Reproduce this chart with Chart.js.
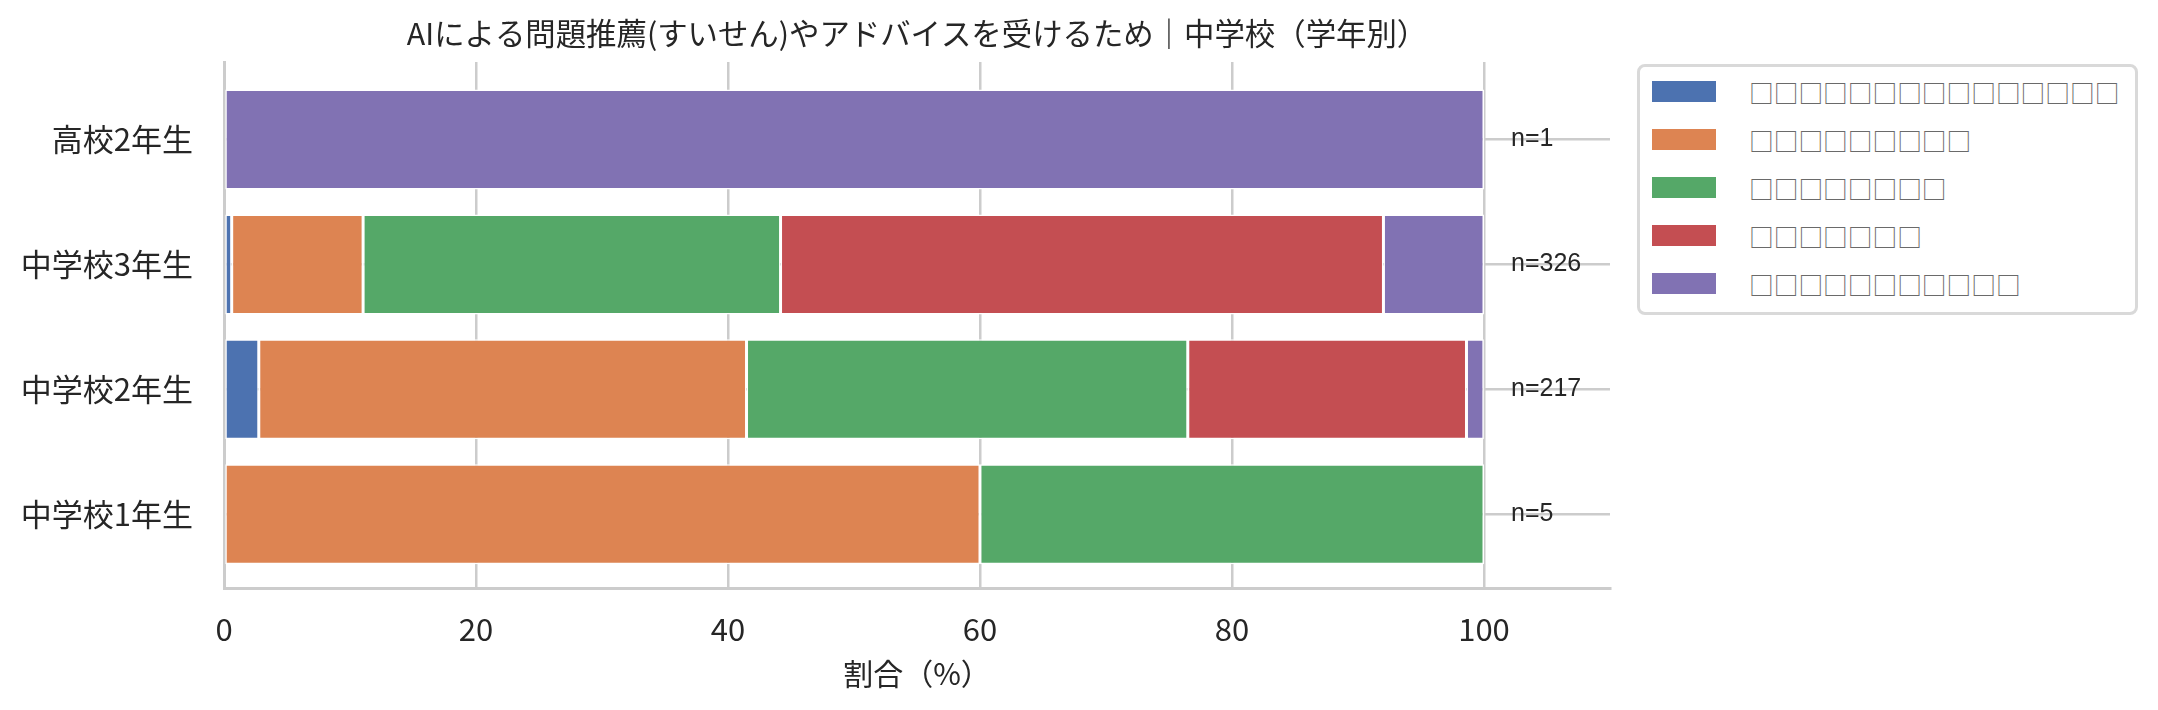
<!DOCTYPE html>
<html>
<head>
<meta charset="utf-8">
<script src="https://cdn.jsdelivr.net/npm/chart.js@4/dist/chart.umd.min.js"></script>
<style>
    body { margin: 0; background: #fff; }
    #wrap { position: relative; width: 2158px; height: 710px; }
    #legend {
        position: absolute; left: 1637px; top: 64px; width: 501px; height: 251px;
        box-sizing: border-box; border: 3px solid #d9d9d9; border-radius: 8px; background: #fff;
    }
    .legend-item { position: absolute; left: 12px; height: 48px; display: flex; align-items: center; }
    .legend-swatch { width: 64px; height: 21px; }
    .legend-label { margin-left: 33px; font: 24.7px "Noto Sans CJK JP", sans-serif; color: #6a6a6a; white-space: nowrap; }
</style>
</head>
<body>
<div id="wrap">
    <canvas id="chart" width="2158" height="710"></canvas>
    <div id="legend"></div>
</div>
<script>
const titleText = 'AIによる問題推薦(すいせん)やアドバイスを受けるため｜中学校（学年別）';
const xTitle = '割合（%）';

// bottom to top, like the picture
const categories = ['中学校1年生', '中学校2年生', '中学校3年生', '高校2年生'];
const sampleSizes = [5, 217, 326, 1];

// legend labels are missing glyphs in the picture
const seriesNames = [
    '□□□□□□□□□□□□□□□',
    '□□□□□□□□□',
    '□□□□□□□□',
    '□□□□□□□',
    '□□□□□□□□□□□'
];
const seriesColors = ['#4c72b0', '#dd8452', '#55a868', '#c44e52', '#8172b3'];

const blueValues   = [0, 2.76, 0.61, 0];
const orangeValues = [60, 38.71, 10.43, 0];
const greenValues  = [40, 35.02, 33.13, 0];
const redValues    = [0, 22.12, 47.85, 0];
const purpleValues = [0, 1.38, 7.98, 100];

const xTicks = [0, 20, 40, 60, 80, 100];

const allValues = [blueValues, orangeValues, greenValues, redValues, purpleValues];

const datasets = allValues.map((vals, k) => ({
    label: seriesNames[k],
    data: vals.map((v, i) => ({x: v, y: i})),
    backgroundColor: seriesColors[k],
    borderColor: '#ffffff',
    borderWidth: 1.5,
    borderSkipped: false,
    categoryPercentage: 0.8,
    barPercentage: 1.0
}));

const titlePlugin = {
    id: 'topTitle',
    afterDraw(chart) {
        const {ctx, chartArea} = chart;
        ctx.save();
        ctx.font = '30.4px "Noto Sans CJK JP"';
        ctx.fillStyle = '#262626';
        ctx.textAlign = 'center';
        ctx.textBaseline = 'middle';
        ctx.fillText(titleText, (chartArea.left + chartArea.right) / 2, 33);
        ctx.restore();
    }
};

const nLabelPlugin = {
    id: 'nLabels',
    afterDatasetsDraw(chart) {
        const {ctx, scales} = chart;
        ctx.save();
        ctx.font = '25px "Liberation Sans", Arial, sans-serif';
        ctx.fillStyle = '#262626';
        ctx.textAlign = 'left';
        ctx.textBaseline = 'middle';
        sampleSizes.forEach((n, i) => {
            ctx.fillText('n=' + n, scales.x.getPixelForValue(100) + 27, scales.y.getPixelForValue(i));
        });
        ctx.restore();
    }
};

const gridColor = '#cccccc';
const textColor = '#262626';

new Chart(document.getElementById('chart'), {
    type: 'bar',
    data: { datasets: datasets },
    options: {
        indexAxis: 'y',
        responsive: false,
        devicePixelRatio: 1,
        animation: false,
        layout: { padding: { top: 62, right: 548, left: 0, bottom: 0 } },
        plugins: {
            legend: { display: false },
            tooltip: { enabled: false }
        },
        scales: {
            x: {
                type: 'linear',
                stacked: true,
                min: 0,
                max: 110,
                bounds: 'data',
                afterBuildTicks: s => { s.ticks = xTicks.map(v => ({value: v})); },
                afterFit: s => { s.height = 122; },
                grid: { color: gridColor, lineWidth: 2.5, drawTicks: false },
                border: { color: gridColor, width: 3 },
                ticks: { color: textColor, padding: 23, font: { family: '"Noto Sans CJK JP"', size: 31 } },
                title: {
                    display: true, text: xTitle, color: textColor,
                    font: { family: '"Noto Sans CJK JP"', size: 30 },
                    padding: { top: 0, bottom: 18 }
                }
            },
            y: {
                type: 'linear',
                stacked: true,
                offset: false,
                min: -0.59,
                max: 3.62,
                bounds: 'data',
                afterBuildTicks: s => { s.ticks = categories.map((c, i) => ({value: i})); },
                afterFit: s => { s.width = 224; },
                grid: { color: gridColor, lineWidth: 2.5, drawTicks: false, offset: false },
                border: { color: gridColor, width: 3 },
                ticks: {
                    color: textColor, padding: 31,
                    font: { family: '"Noto Sans CJK JP"', size: 31 },
                    callback: v => categories[v]
                }
            }
        }
    },
    plugins: [titlePlugin, nLabelPlugin]
});

// legend
const legend = document.getElementById('legend');
seriesNames.forEach((name, k) => {
    const item = document.createElement('div');
    item.className = 'legend-item';
    item.style.top = (0.5 + 48 * k) + 'px';
    item.innerHTML = `<div class="legend-swatch" style="background:${seriesColors[k]}"></div>
                      <span class="legend-label">${name}</span>`;
    legend.appendChild(item);
});
</script>
</body>
</html>
